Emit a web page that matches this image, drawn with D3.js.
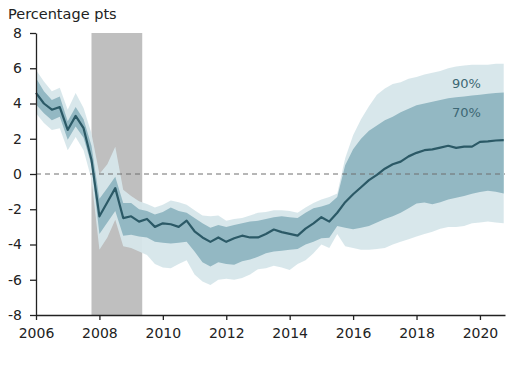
<!DOCTYPE html>
<html>
<head>
<meta charset="utf-8">
<script src="https://cdn.jsdelivr.net/npm/d3@7"></script>
<style>
html,body{margin:0;padding:0;background:#fff;}
svg{display:block;}
</style>
</head>
<body>
<svg id="chart" width="524" height="366"></svg>
<script>
// Quarterly, starting 2006Q1
const startYear = 2006;
const median = [4.6,4.0,3.65,3.8,2.5,3.3,2.6,0.8,-2.4,-1.6,-0.8,-2.5,-2.4,-2.7,-2.55,-3.0,-2.8,-2.85,-3.0,-2.65,-3.25,-3.6,-3.85,-3.6,-3.85,-3.65,-3.5,-3.6,-3.6,-3.4,-3.15,-3.3,-3.4,-3.5,-3.1,-2.8,-2.45,-2.7,-2.2,-1.6,-1.15,-0.75,-0.35,-0.05,0.3,0.55,0.7,1.0,1.2,1.35,1.4,1.5,1.6,1.48,1.55,1.55,1.82,1.85,1.9,1.92];
const upper70 = [5.45,4.7,4.2,4.4,3.0,3.8,3.1,1.6,-1.4,-0.8,-0.15,-1.65,-1.65,-2.0,-2.1,-2.3,-2.15,-1.9,-2.1,-2.2,-2.5,-2.8,-3.05,-2.9,-3.0,-2.9,-2.8,-2.7,-2.65,-2.55,-2.45,-2.4,-2.45,-2.5,-2.2,-1.95,-1.85,-1.7,-1.3,0.5,1.4,2.0,2.45,2.75,3.05,3.25,3.5,3.7,3.9,4.0,4.1,4.2,4.3,4.35,4.4,4.45,4.5,4.55,4.6,4.62];
const lower70 = [3.95,3.45,3.05,3.25,1.95,2.7,2.05,0.5,-3.4,-2.75,-2.1,-3.5,-3.45,-3.55,-3.6,-3.85,-3.9,-3.95,-3.9,-3.85,-4.4,-5.0,-5.25,-5.0,-5.1,-5.15,-4.95,-4.85,-4.7,-4.5,-4.4,-4.35,-4.3,-4.25,-4.0,-3.85,-3.65,-3.62,-2.95,-3.05,-3.14,-3.05,-2.95,-2.75,-2.55,-2.4,-2.2,-1.95,-1.67,-1.62,-1.72,-1.6,-1.45,-1.35,-1.25,-1.12,-1.02,-0.95,-1.0,-1.1];
const upper90 = [5.9,5.25,4.7,4.9,3.65,4.6,3.75,2.3,0.0,0.55,1.55,-0.9,-1.25,-1.55,-1.7,-1.9,-1.75,-1.5,-1.6,-1.75,-2.05,-2.35,-2.4,-2.35,-2.65,-2.55,-2.5,-2.35,-2.2,-2.15,-2.05,-2.05,-2.1,-2.2,-1.9,-1.65,-1.45,-1.3,-1.1,0.9,2.2,3.1,3.85,4.5,4.85,5.1,5.2,5.4,5.5,5.65,5.75,5.85,6.0,6.1,6.15,6.2,6.2,6.2,6.25,6.25];
const lower90 = [3.45,2.9,2.5,2.6,1.35,2.1,1.35,-0.3,-4.3,-3.6,-2.6,-4.1,-4.2,-4.4,-4.6,-5.1,-5.3,-5.35,-5.1,-4.9,-5.7,-6.1,-6.3,-6.0,-5.95,-6.0,-5.9,-5.7,-5.4,-5.35,-5.2,-5.3,-5.45,-5.1,-4.9,-4.5,-4.0,-4.2,-3.4,-4.1,-4.2,-4.3,-4.3,-4.25,-4.2,-4.0,-3.85,-3.7,-3.55,-3.4,-3.28,-3.1,-3.0,-3.0,-2.95,-2.8,-2.75,-2.7,-2.75,-2.8];
const recession = [2007.75, 2009.35];
const xTicks = [2006,2008,2010,2012,2014,2016,2018,2020];
const yTicks = [-8,-6,-4,-2,0,2,4,6,8];
const bandLabels = ["90%","70%"];
const yTitle = "Percentage pts";

const data = median.map((m,i)=>({t:startYear+i/4, m, u70:upper70[i], l70:lower70[i], u90:upper90[i], l90:lower90[i]}));

const svg = d3.select("#chart");
const font = "DejaVu Sans, Verdana, sans-serif";
const x = d3.scaleLinear().domain([2006, 2020.79]).range([36, 505]);
const y = d3.scaleLinear().domain([-8, 8]).range([315, 33]);

// recession shading
svg.append("rect")
  .attr("x", x(recession[0])).attr("width", x(recession[1]) - x(recession[0]))
  .attr("y", y(8)).attr("height", y(-8) - y(8))
  .attr("fill", "#bfbfbf");

const area = (lo, hi) => d3.area().x(d=>x(d.t)).y0(d=>y(d[lo])).y1(d=>y(d[hi]));
svg.append("path").datum(data).attr("d", area("l90","u90")).attr("fill", "#d6e6ea").attr("opacity", 0.95);
svg.append("path").datum(data).attr("d", area("l70","u70")).attr("fill", "#93b8c3");

// zero line
svg.append("line").attr("x1", x(2006)).attr("x2", x(2020.79)).attr("y1", y(0)).attr("y2", y(0))
  .attr("stroke", "#6f6f6f").attr("stroke-width", 1).attr("stroke-dasharray", "5,4");

// median line
svg.append("path").datum(data)
  .attr("d", d3.line().x(d=>x(d.t)).y(d=>y(d.m)))
  .attr("fill", "none").attr("stroke", "#2b5966").attr("stroke-width", 2.2).attr("stroke-linejoin","round");

// axes
const gx = svg.append("g").attr("transform", `translate(0,${y(-8)})`)
  .call(d3.axisBottom(x).tickValues(xTicks).tickFormat(d => String(d)).tickSize(5).tickSizeOuter(0));
gx.select(".domain").attr("stroke", "#222").attr("stroke-width", 1.3);
gx.selectAll(".tick line").attr("stroke", "#222").attr("stroke-width", 1.3);
gx.selectAll(".tick text").attr("y", 13).attr("font-size", 14).attr("font-family", font).attr("fill", "#222");

const gy = svg.append("g").attr("transform", `translate(${x(2006)},0)`)
  .call(d3.axisLeft(y).tickValues(yTicks).tickFormat(d => String(d)).tickSize(6).tickSizeOuter(0).tickPadding(8));
gy.select(".domain").attr("stroke", "#222").attr("stroke-width", 1.3);
gy.selectAll(".tick line").attr("stroke", "#222").attr("stroke-width", 1.3);
gy.selectAll(".tick text").attr("font-size", 14).attr("font-family", font).attr("fill", "#222");

svg.append("text").attr("x", 8).attr("y", 19).text(yTitle)
  .attr("font-size", 14.5).attr("font-family", font).attr("fill", "#222");

svg.append("text").attr("x", 452).attr("y", 88).text(bandLabels[0])
  .attr("font-size", 13).attr("font-family", font).attr("fill", "#3d6774");
svg.append("text").attr("x", 452).attr("y", 117).text(bandLabels[1])
  .attr("font-size", 13).attr("font-family", font).attr("fill", "#3d6774");
</script>
</body>
</html>
